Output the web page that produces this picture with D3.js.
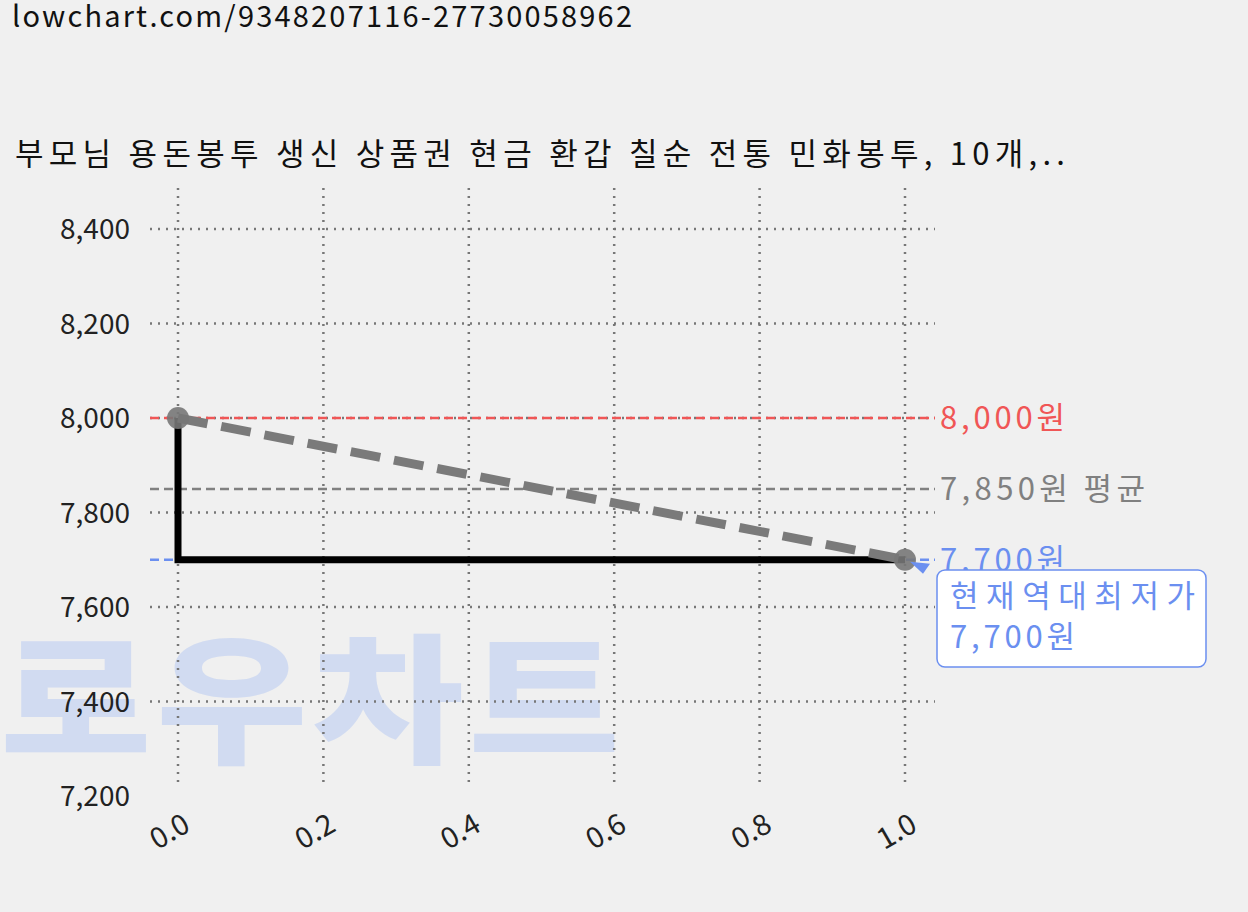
<!DOCTYPE html><html><head><meta charset="utf-8"><script src="https://cdn.jsdelivr.net/npm/d3@7"></script>
<style>body{margin:0;background:#f0f0f0}svg{font-family:"Noto Sans CJK KR","Noto Sans",sans-serif}</style></head><body>
<svg id="c" width="1248" height="912"></svg>
<script>
const xVals=[0,1];
const prices=[8000,7700];
const yTicks=[7200,7400,7600,7800,8000,8200,8400];
const xTicks=[0,0.2,0.4,0.6,0.8,1.0];
const refLines=[{v:8000,label:"8,000원",color:"#f05656",len:125},{v:7850,label:"7,850원 평균",color:"#808080",len:205},{v:7700,label:"7,700원",color:"#6b8ff0",len:125}];
const title="부모님 용돈봉투 생신 상품권 현금 환갑 칠순 전통 민화봉투, 10개,..";
const url="lowchart.com/9348207116-27730058962";
const svg=d3.select("#c");
const x=d3.scaleLinear().domain([0,1]).range([178,905]);
const y=d3.scaleLinear().domain([7200,8400]).range([796,229]);
svg.append("text").attr("x",12).attr("y",27).attr("font-size",29).attr("fill","#111").attr("textLength",620).text(url);
svg.append("text").attr("x",15).attr("y",165).attr("font-size",31).attr("fill","#111").attr("textLength",1050).text(title);
svg.append("text").attr("transform","translate(0,752) scale(1,0.85)").attr("font-size",165).attr("font-weight",900).attr("fill","#c5d3f2").attr("opacity",0.7).attr("textLength",620).text("로우차트");
const g=svg.append("g");
xTicks.forEach(t=>g.append("line").attr("x1",x(t)).attr("x2",x(t)).attr("y1",188).attr("y2",785).attr("stroke","#777").attr("stroke-width",2.5).attr("stroke-dasharray","2,6"));
yTicks.filter(t=>t>7200).forEach(t=>g.append("line").attr("x1",150).attr("x2",935).attr("y1",y(t)).attr("y2",y(t)).attr("stroke","#777").attr("stroke-width",2.5).attr("stroke-dasharray","2,6"));
yTicks.forEach(t=>svg.append("text").attr("x",130).attr("y",y(t)+10).attr("text-anchor","end").attr("font-size",28).attr("fill","#222").text(d3.format(",")(t)));
xTicks.forEach(t=>svg.append("text").attr("transform",`translate(${x(t)+14},${830}) rotate(-30)`).attr("text-anchor","end").attr("font-size",29).attr("fill","#222").text(t.toFixed(1)));
refLines.forEach(r=>{svg.append("line").attr("x1",150).attr("x2",935).attr("y1",y(r.v)).attr("y2",y(r.v)).attr("stroke",r.color).attr("stroke-width",2.5).attr("stroke-dasharray","9,5");
svg.append("text").attr("x",940).attr("y",y(r.v)+11).attr("font-size",31).attr("fill",r.color).attr("textLength",r.len).text(r.label);});
svg.append("path").attr("d",d3.line().curve(d3.curveStepBefore)(xVals.map((v,i)=>[x(v),y(prices[i])]))).attr("fill","none").attr("stroke","#000").attr("stroke-width",7);
svg.append("path").attr("d",d3.line()(xVals.map((v,i)=>[x(v),y(prices[i])]))).attr("fill","none").attr("stroke","#7a7a7a").attr("stroke-width",9).attr("stroke-dasharray","30,14");
xVals.forEach((v,i)=>svg.append("circle").attr("cx",x(v)).attr("cy",y(prices[i])).attr("r",11).attr("fill","#777").attr("opacity",0.9));
svg.append("path").attr("d",`M${x(1)+5},${y(7700)+2} L${x(1)+25},${y(7700)+4} L${x(1)+18},${y(7700)+14} Z`).attr("fill","#6b8ff0");
svg.append("rect").attr("x",937).attr("y",570).attr("width",269).attr("height",97).attr("rx",8).attr("fill","#fff").attr("stroke","#6b8ff0").attr("stroke-width",1.5);
svg.append("text").attr("x",950).attr("y",607).attr("font-size",31).attr("fill","#6b8ff0").attr("textLength",245).text("현재역대최저가");
svg.append("text").attr("x",950).attr("y",648).attr("font-size",31).attr("fill","#6b8ff0").attr("textLength",125).text("7,700원");
</script></body></html>
